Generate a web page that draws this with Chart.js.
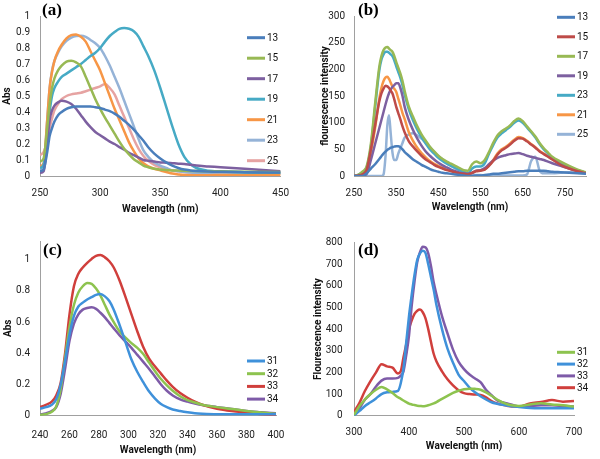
<!DOCTYPE html>
<html><head><meta charset="utf-8">
<script src="https://cdn.jsdelivr.net/npm/chart.js@4.4.1/dist/chart.umd.min.js"></script>
<style>
html,body{margin:0;padding:0;background:#fff;width:600px;height:459px;overflow:hidden}
.p{position:absolute}
</style></head><body>
<div class="p" style="left:0;top:0"><canvas id="ca" width="300" height="220"></canvas></div>
<div class="p" style="left:300px;top:0"><canvas id="cb" width="300" height="220"></canvas></div>
<div class="p" style="left:0;top:225px"><canvas id="cc" width="300" height="234"></canvas></div>
<div class="p" style="left:300px;top:225px"><canvas id="cd" width="300" height="234"></canvas></div>
<script>
// ---------- Panel (a): absorbance ----------
const aWavelengths = [250,253,256,258,260,262,265,268,272,276,280,284,288,292,296,300,304,308,312,316,320,324,328,332,336,340,345,350,355,360,365,370,375,380,390,400,420,450];
const a13 = [0.03,0.04,0.15,0.25,0.30,0.34,0.38,0.40,0.42,0.43,0.435,0.435,0.435,0.435,0.43,0.425,0.415,0.405,0.39,0.37,0.345,0.32,0.29,0.255,0.22,0.18,0.14,0.11,0.085,0.065,0.05,0.04,0.035,0.032,0.028,0.026,0.024,0.022];
const a15 = [0.09,0.11,0.30,0.45,0.55,0.61,0.66,0.69,0.715,0.72,0.71,0.685,0.62,0.55,0.48,0.42,0.365,0.315,0.265,0.215,0.17,0.135,0.105,0.085,0.065,0.055,0.045,0.04,0.037,0.035,0.034,0.033,0.032,0.031,0.03,0.029,0.027,0.025];
const a17 = [0.02,0.03,0.20,0.35,0.41,0.44,0.46,0.47,0.465,0.45,0.42,0.38,0.34,0.305,0.275,0.255,0.235,0.215,0.20,0.18,0.165,0.145,0.13,0.115,0.10,0.095,0.09,0.085,0.083,0.08,0.077,0.075,0.07,0.065,0.06,0.055,0.045,0.03];
const a19 = [0.05,0.07,0.25,0.40,0.50,0.55,0.59,0.62,0.64,0.66,0.68,0.70,0.725,0.75,0.77,0.80,0.84,0.875,0.90,0.92,0.925,0.92,0.905,0.87,0.81,0.75,0.66,0.55,0.43,0.31,0.20,0.12,0.075,0.05,0.033,0.028,0.022,0.02];
const a21 = [0.06,0.08,0.35,0.55,0.65,0.72,0.78,0.82,0.86,0.88,0.885,0.87,0.84,0.78,0.72,0.66,0.58,0.50,0.42,0.35,0.28,0.21,0.155,0.11,0.08,0.06,0.045,0.035,0.025,0.015,0.01,0.006,0.005,0.005,0.005,0.006,0.007,0.008];
const a23 = [0.04,0.06,0.35,0.55,0.66,0.72,0.77,0.81,0.845,0.865,0.875,0.877,0.87,0.85,0.83,0.80,0.75,0.69,0.62,0.55,0.47,0.39,0.31,0.23,0.16,0.12,0.085,0.065,0.05,0.035,0.03,0.025,0.022,0.02,0.018,0.017,0.016,0.015];
const a25 = [0.13,0.15,0.22,0.30,0.36,0.41,0.45,0.48,0.50,0.51,0.515,0.52,0.53,0.54,0.55,0.56,0.575,0.55,0.51,0.44,0.37,0.30,0.23,0.17,0.125,0.095,0.07,0.055,0.045,0.035,0.03,0.025,0.022,0.02,0.018,0.017,0.016,0.015];
const aLabels = ['13','15','17','19','21','23','25'];
const aTicksX = [250,300,350,400,450];
const aTicksY = [0,0.1,0.2,0.3,0.4,0.5,0.6,0.7,0.8,0.9,1];

// ---------- Panel (b): fluorescence ----------
const bWavelengths = [250,260,270,280,290,300,310,315,320,325,329,333,337,341,345,350,355,360,365,370,380,390,400,410,420,430,440,450,460,470,480,490,500,510,520,530,540,550,560,570,580,590,600,610,620,630,640,650,660,670,680,690,700,710,720,740,760,780,800];
const b13 = [0,0,0,5,14,22,32,37,42,46,49,51,53,54,55,56,56,54,50,45,38,31,26,21,17,13,10,8,6,5,4,3,2,1,0,0,1,1,2,3,4,4,5,6,7,8,9,9,10,10,10,10,10,9,8,7,6,5,4];
const b15 = [0,1,3,12,50,95,140,155,164,169,168,165,160,155,145,130,118,106,93,82,65,55,46,38,31,26,21,17,14,11,9,7,5,4,3,6,9,10,12,19,28,40,48,53,59,66,71,70,65,59,53,46,41,36,31,21,14,9,5];
const b17 = [0,2,8,18,60,135,205,225,236,241,242,239,236,233,226,214,203,192,178,160,130,111,93,78,66,55,46,38,32,27,23,19,15,11,10,22,27,24,30,45,62,76,84,89,95,103,108,103,93,84,74,62,52,44,36,27,19,12,7];
const b19 = [0,0,1,4,30,60,90,105,120,135,146,155,162,167,170,174,174,165,150,130,105,86,70,57,46,38,31,25,20,16,12,9,6,5,4,6,10,11,15,22,29,34,37,39,41,42,43,41,38,36,34,32,30,27,24,19,14,10,6];
const b23 = [0,2,7,16,55,128,198,218,228,233,233,231,228,225,218,206,195,184,170,153,125,104,87,73,61,50,42,34,28,23,19,15,11,8,5,14,18,18,24,42,58,72,80,86,92,100,104,100,91,82,72,60,50,42,34,25,17,11,6];
const b21 = [0,1,3,11,45,90,145,165,178,185,186,182,175,168,164,158,145,132,118,107,82,66,53,43,35,28,23,19,15,12,10,7,5,4,3,6,10,11,13,20,30,42,50,55,61,68,73,71,66,60,54,47,42,37,32,22,15,10,6];
const b25 = [0,0,0,0,0,0,0,0,3,40,95,114,80,45,30,30,42,52,62,72,78,80,76,70,62,54,45,37,31,24,19,14,10,6,3,2,2,2,1,1,1,1,1,1,1,1,1,1,3,28,36,10,5,5,5,6,7,6,5];
const bLabels = ['13','15','17','19','23','21','25'];
const bTicksX = [250,350,450,550,650,750];
const bTicksY = [0,50,100,150,200,250,300];

// ---------- Panel (c): absorbance ----------
const cWavelengths = [240,244,248,251,254,257,260,263,266,269,272,275,278,281,284,287,290,294,298,302,306,310,314,318,322,326,330,335,340,345,350,360,370,380,390,400];
const c31 = [0.045,0.055,0.07,0.105,0.20,0.35,0.52,0.64,0.70,0.725,0.745,0.76,0.775,0.78,0.765,0.735,0.68,0.58,0.47,0.36,0.28,0.215,0.155,0.11,0.075,0.055,0.04,0.03,0.022,0.016,0.013,0.01,0.01,0.01,0.01,0.01];
const c32 = [0.005,0.01,0.025,0.06,0.17,0.37,0.57,0.71,0.79,0.83,0.85,0.845,0.815,0.77,0.71,0.65,0.60,0.54,0.50,0.465,0.435,0.395,0.34,0.285,0.235,0.195,0.16,0.125,0.10,0.085,0.07,0.055,0.043,0.03,0.02,0.012];
const c33 = [0.055,0.07,0.09,0.13,0.21,0.40,0.65,0.83,0.91,0.95,0.98,1.005,1.025,1.03,1.015,0.99,0.95,0.865,0.76,0.65,0.54,0.44,0.365,0.315,0.27,0.225,0.185,0.145,0.115,0.09,0.07,0.045,0.03,0.02,0.01,0.005];
const c34 = [0.008,0.015,0.03,0.055,0.14,0.30,0.48,0.59,0.65,0.68,0.69,0.695,0.685,0.66,0.63,0.595,0.56,0.515,0.475,0.435,0.39,0.345,0.30,0.25,0.20,0.16,0.13,0.105,0.09,0.078,0.068,0.055,0.043,0.03,0.022,0.015];
const cLabels = ['31','32','33','34'];
const cTicksX = [240,260,280,300,320,340,360,380,400];
const cTicksY = [0,0.2,0.4,0.6,0.8,1];

// ---------- Panel (d): fluorescence ----------
const dWavelengths = [300,310,320,330,340,350,360,370,380,385,390,395,400,405,410,415,420,425,430,435,440,445,450,460,470,480,490,500,510,520,530,540,550,560,570,580,590,600,620,640,660,680,700];
const d31 = [3,45,75,100,120,133,122,105,85,78,70,63,56,52,49,46,45,44,45,48,52,57,63,78,92,105,115,122,125,124,120,108,92,75,62,52,47,45,52,57,52,48,42];
const d32 = [0,22,45,62,80,100,108,110,115,150,220,340,460,560,650,720,750,762,752,700,640,580,510,400,310,245,190,160,130,108,90,75,62,55,50,46,43,40,35,34,34,34,34];
const d33 = [3,34,75,100,135,162,172,172,175,185,205,280,370,510,620,710,755,780,778,750,690,615,560,460,380,305,250,215,190,172,155,120,95,72,62,55,48,42,45,48,48,45,42];
const d34 = [18,60,115,160,200,238,228,222,195,205,270,330,400,440,470,485,490,478,450,400,340,285,250,205,168,140,118,104,100,98,96,85,68,57,50,45,42,42,57,63,72,65,68];
const dLabels = ['31','32','33','34'];
const dTicksX = [300,400,500,600,700];
const dTicksY = [0,100,200,300,400,500,600,700,800];

// ---------- common styling ----------
const FONT = "'Roboto','Liberation Sans',sans-serif";
const C = {
  blue:'#4A7EBB', red:'#BE4B48', green:'#98B954', purple:'#7D60A0', teal:'#46AAC5',
  orange:'#F79646', lightblue:'#95B3D7', pink:'#E6A3A2',
  cblue:'#3F91DA', cgreen:'#8DC34F', cred:'#D03F3C', cpurple:'#7E5BA8'
};

const overlay = {
  id:'overlay',
  afterDraw(chart, args, o){
    const ctx = chart.ctx;
    ctx.save();
    ctx.font = '10px ' + FONT;
    ctx.textBaseline = 'middle';
    ctx.textAlign = 'left';
    chart.data.datasets.forEach((ds,i)=>{
      const y = o.ly + i*o.lsp;
      ctx.strokeStyle = ds.borderColor;
      ctx.lineWidth = 3;
      ctx.beginPath(); ctx.moveTo(o.lx, y); ctx.lineTo(o.lx+18, y); ctx.stroke();
      ctx.fillStyle = '#111';
      ctx.fillText(ds.label, o.lx+20, y+0.5);
    });
    ctx.font = "bold 17px 'Liberation Serif','DejaVu Serif',serif";
    ctx.textBaseline = 'alphabetic';
    ctx.fillStyle = '#000';
    ctx.fillText(o.letter, o.px, o.py);
    ctx.restore();
  }
};

function build(id, xs, series, p){
  const datasets = series.map(s=>({
    label:s.label,
    data: xs.map((x,i)=>({x:x, y:s.values[i]})),
    borderColor:s.color, backgroundColor:s.color,
    borderWidth:2.5, pointRadius:0, fill:false,
    cubicInterpolationMode:'monotone'
  }));
  const fmt = v => String(Math.round(v*1000)/1000);
  return new Chart(document.getElementById(id), {
    type:'line',
    data:{datasets},
    plugins:[overlay],
    options:{
      responsive:false, animation:false,
      layout:{padding:{left:0, right:p.padR, top:p.padT, bottom:0}},
      plugins:{legend:{display:false}, tooltip:{enabled:false}, overlay:p.ov},
      scales:{
        x:{type:'linear', min:p.xmin, max:p.xmax,
           grid:{display:false, drawTicks:false},
           border:{display:true, color:'#a0a0a0', width:1},
           ticks:{padding:p.xtp, color:'#222', font:{family:FONT, size:10}, maxRotation:0, autoSkip:false, callback:fmt},
           afterBuildTicks:s=>{s.ticks = p.xticks.map(v=>({value:v}));},
           title:{display:true, text:'Wavelength (nm)', color:'#111', font:{family:FONT, size:10, weight:'bold'}, padding:{top:0,bottom:p.xtb}},
           afterFit:s=>{s.height = p.xh;}},
        y:{type:'linear', min:0, max:p.ymax,
           grid:{display:false, drawTicks:false},
           border:{display:true, color:'#a0a0a0', width:1},
           ticks:{padding:p.ytp, color:'#222', font:{family:FONT, size:10}, callback:fmt},
           afterBuildTicks:s=>{s.ticks = p.yticks.map(v=>({value:v}));},
           title:{display:true, text:p.ytitle, color:'#111', font:{family:FONT, size:10, weight:'bold'}, padding:{top:p.ytt,bottom:0}},
           afterFit:s=>{s.width = p.yw;}}
      }
    }
  });
}

build('ca', aWavelengths, [
  {label:aLabels[0], values:a13, color:C.blue},
  {label:aLabels[1], values:a15, color:C.green},
  {label:aLabels[2], values:a17, color:C.purple},
  {label:aLabels[3], values:a19, color:C.teal},
  {label:aLabels[4], values:a21, color:C.orange},
  {label:aLabels[5], values:a23, color:C.lightblue},
  {label:aLabels[6], values:a25, color:C.pink}
], {xmin:250,xmax:450,xticks:aTicksX,ymax:1,yticks:aTicksY,ytitle:'Abs',
    padR:19,padT:5,xh:44,yw:40,xtp:11,xtb:5,ytp:10,ytt:1.5,
    ov:{lx:247,ly:37.7,lsp:20.5,letter:'(a)',px:42,py:15}});

build('cb', bWavelengths, [
  {label:bLabels[0], values:b13, color:C.blue},
  {label:bLabels[1], values:b15, color:C.red},
  {label:bLabels[2], values:b17, color:C.green},
  {label:bLabels[3], values:b19, color:C.purple},
  {label:bLabels[4], values:b23, color:C.teal},
  {label:bLabels[5], values:b21, color:C.orange},
  {label:bLabels[6], values:b25, color:C.lightblue}
], {xmin:250,xmax:800,xticks:bTicksX,ymax:300,yticks:bTicksY,ytitle:'flourescence intensity',
    padR:14,padT:16,xh:44,yw:54,xtp:11,xtb:7,ytp:9,ytt:19,
    ov:{lx:257,ly:17.3,lsp:19.5,letter:'(b)',px:58,py:15}});

build('cc', cWavelengths, [
  {label:cLabels[0], values:c31, color:C.cblue},
  {label:cLabels[1], values:c32, color:C.cgreen},
  {label:cLabels[2], values:c33, color:C.cred},
  {label:cLabels[3], values:c34, color:C.cpurple}
], {xmin:240,xmax:400,xticks:cTicksX,ymax:1.12,yticks:cTicksY,ytitle:'Abs',
    padR:24,padT:8,xh:43.3,yw:40,xtp:14,xtb:3,ytp:10,ytt:2,
    ov:{lx:247,ly:136,lsp:12.7,letter:'(c)',px:43,py:30}});

build('cd', dWavelengths, [
  {label:dLabels[0], values:d31, color:C.cgreen},
  {label:dLabels[1], values:d32, color:C.cblue},
  {label:dLabels[2], values:d33, color:C.cpurple},
  {label:dLabels[3], values:d34, color:C.cred}
], {xmin:300,xmax:700,xticks:dTicksX,ymax:800,yticks:dTicksY,ytitle:'Flourescence intensity',
    padR:26,padT:17.3,xh:43.3,yw:54,xtp:11,xtb:7,ytp:11.5,ytt:12,
    ov:{lx:257,ly:127.3,lsp:11.8,letter:'(d)',px:58,py:30}});
</script>
</body></html>
